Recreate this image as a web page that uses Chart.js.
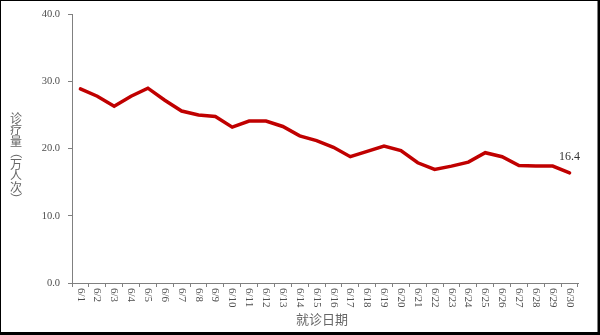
<!DOCTYPE html>
<html>
<head>
<meta charset="utf-8">
<script src="https://cdn.jsdelivr.net/npm/chart.js@4/dist/chart.umd.min.js"></script>
<style>
html,body{margin:0;padding:0;background:#fff;}
#wrap{width:600px;height:335px;position:relative;}
canvas{display:block;}
</style>
</head>
<body>
<div id="wrap"><canvas id="c" width="600" height="335"></canvas></div>
<script>
const categories = ['6/1','6/2','6/3','6/4','6/5','6/6','6/7','6/8','6/9','6/10','6/11','6/12','6/13','6/14','6/15','6/16','6/17','6/18','6/19','6/20','6/21','6/22','6/23','6/24','6/25','6/26','6/27','6/28','6/29','6/30'];
const visits = [28.9,27.8,26.3,27.8,29.0,27.2,25.6,25.0,24.8,23.2,24.1,24.1,23.3,21.9,21.2,20.2,18.8,19.6,20.4,19.7,17.9,16.9,17.4,18.0,19.4,18.8,17.5,17.4,17.4,16.4];
const yTicks = [0,10,20,30,40];
const xTitle = '就诊日期';
const yTitle = ['诊','疗','量','（','万','人','次','）'];
const endLabel = '16.4';

const decor = {
  id: 'decor',
  beforeDraw(chart) {
    const ctx = chart.ctx;
    ctx.save();
    ctx.fillStyle = '#fff';
    ctx.fillRect(0, 0, chart.width, chart.height);
    ctx.restore();
  },
  afterDraw(chart) {
    const ctx = chart.ctx;
    const xs = chart.scales.x;
    const ca = chart.chartArea;
    ctx.save();
    // x tick labels rotated clockwise
    ctx.fillStyle = '#4d4d4d';
    ctx.font = '11px "Liberation Serif"';
    ctx.textAlign = 'left';
    ctx.textBaseline = 'middle';
    categories.forEach((lab, i) => {
      const x = xs.getPixelForTick(i);
      ctx.save();
      ctx.translate(x, ca.bottom + 5);
      ctx.rotate(Math.PI / 2);
      ctx.fillText(lab, 0, 0);
      ctx.restore();
    });
    // x title
    ctx.font = '13px "Noto Sans CJK SC"';
    ctx.fillStyle = '#666';
    ctx.textAlign = 'center';
    ctx.textBaseline = 'middle';
    ctx.fillText(xTitle, (ca.left + ca.right) / 2 - 3, 319);
    // y title stacked vertical (brackets rotated for vertical writing)
    ctx.font = '12px "Noto Sans CJK SC"';
    let y = 118;
    yTitle.forEach(ch => {
      if (ch === '（' || ch === '）') {
        ctx.save();
        ctx.translate(16, y);
        ctx.rotate(Math.PI / 2);
        ctx.fillText(ch, 0, 0);
        ctx.restore();
      } else {
        ctx.fillText(ch, 16, y);
      }
      y += 11.5;
    });
    // end label
    const meta = chart.getDatasetMeta(0);
    const pt = meta.data[meta.data.length - 1];
    ctx.font = '12px "Liberation Serif"';
    ctx.fillStyle = '#333';
    ctx.fillText(endLabel, pt.x, pt.y - 16);
    // frame
    ctx.strokeStyle = '#000';
    ctx.lineWidth = 1;
    ctx.strokeRect(0.5, 0.5, chart.width - 1, chart.height - 1);
    ctx.lineWidth = 2;
    ctx.beginPath();
    ctx.moveTo(0, chart.height - 2);
    ctx.lineTo(chart.width, chart.height - 2);
    ctx.moveTo(chart.width - 1.5, 0);
    ctx.lineTo(chart.width - 1.5, chart.height);
    ctx.stroke();
    ctx.restore();
  }
};

new Chart(document.getElementById('c'), {
  type: 'line',
  data: {
    labels: categories,
    datasets: [{
      data: visits,
      borderColor: '#C00000',
      borderWidth: 3.5,
      pointRadius: 0,
      tension: 0,
      fill: false,
      borderCapStyle: 'round',
      borderJoinStyle: 'miter'
    }]
  },
  options: {
    responsive: false,
    animation: false,
    devicePixelRatio: 1,
    layout: { padding: { left: 0, right: 22, top: 13, bottom: 0 } },
    plugins: { legend: { display: false }, tooltip: { enabled: false } },
    scales: {
      x: {
        type: 'category',
        offset: true,
        grid: { display: true, offset: true, drawOnChartArea: false, drawTicks: true, tickLength: 4, color: '#808080' },
        border: { display: true, color: '#808080', width: 1 },
        ticks: { display: false },
        afterFit(s) { s.height = 52; }
      },
      y: {
        min: 0, max: 40,
        afterBuildTicks(s) { s.ticks = yTicks.map(v => ({ value: v })); },
        grid: { display: true, drawOnChartArea: false, drawTicks: true, tickLength: 4, color: '#808080' },
        border: { display: true, color: '#808080', width: 1 },
        ticks: {
          padding: 8,
          color: '#4d4d4d',
          font: { family: 'Liberation Serif', size: 10.5 },
          callback: v => Number(v).toFixed(1)
        },
        afterFit(s) { s.width = 72; }
      }
    }
  },
  plugins: [decor]
});
</script>
</body>
</html>
